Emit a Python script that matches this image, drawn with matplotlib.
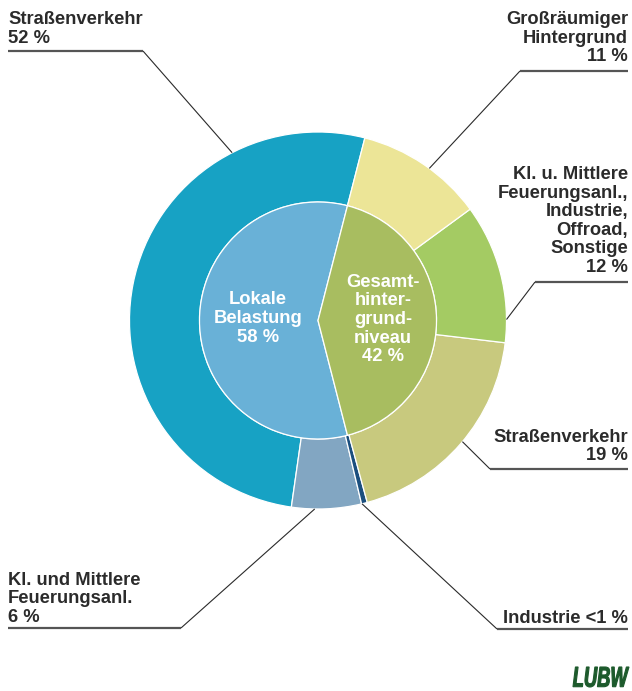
import matplotlib
matplotlib.use("Agg")
import matplotlib.pyplot as plt
import numpy as np
from matplotlib.textpath import TextPath
from matplotlib.patches import PathPatch
from matplotlib.font_manager import FontProperties
from matplotlib.transforms import Affine2D

# ---------------- data ----------------
inner_labels = ["Lokale\nBelastung\n58 %", "Gesamt-\nhinter-\ngrund-\nniveau\n42 %"]
inner_values = [58, 42]
inner_colors = ["#69b1d7", "#a8bd60"]

outer_labels = ["Straßenverkehr\n52 %",
                "Kl. und Mittlere\nFeuerungsanl.\n6 %",
                "Industrie <1 %",
                "Straßenverkehr\n19 %",
                "Kl. u. Mittlere\nFeuerungsanl.,\nIndustrie,\nOffroad,\nSonstige\n12 %",
                "Großräumiger\nHintergrund\n11 %"]
outer_values = [52, 6, 0.5, 19, 12, 11]
outer_colors = ["#17a2c4", "#82a6c2", "#1b4f7e", "#c8c97e", "#a4cb63", "#ece597"]

# ---------------- layout ----------------
W, H = 632, 691
def Y(py):
    return H - py

CX, CY = 318, 320.5
R_OUT, R_IN = 188.5, 118.5
START = inner_values[1] / sum(inner_values) * 360 / 2  # Gesamt wedge symmetric about 0 deg

fig = plt.figure(figsize=(W / 100, H / 100), dpi=100)
ax = fig.add_axes([0, 0, 1, 1])

wp = dict(edgecolor="white", linewidth=0.9)
ax.pie(outer_values, colors=outer_colors, radius=R_OUT, center=(CX, Y(CY)),
       startangle=START, counterclock=True,
       wedgeprops=dict(width=R_OUT - R_IN, **wp))
ax.pie(inner_values, colors=inner_colors, radius=R_IN, center=(CX, Y(CY)),
       startangle=START, counterclock=True, wedgeprops=wp)

ax.set_xlim(0, W)
ax.set_ylim(0, H)
ax.axis("off")

FONT = "Liberation Sans"
FS = 13.2
TXT = "#2b2b2b"
LSP = 18.5

def draw_lines(lines, x, last_baseline, ha, color=TXT, spacing=LSP):
    n = len(lines)
    for i, ln in enumerate(lines):
        yb = last_baseline - (n - 1 - i) * spacing
        ax.text(x, Y(yb), ln, ha=ha, va="baseline", fontsize=FS,
                fontweight="bold", family=FONT, color=color)

# inner labels (centre x, last baseline)
inner_pos = [(258, 341.5), (383, 361.3)]
for lab, (x, yb) in zip(inner_labels, inner_pos):
    draw_lines(lab.split("\n"), x, yb, "center", color="white", spacing=18.7)

# outer labels: (anchor angle deg, elbow x, line y, line end x, text x, ha, last baseline)
outer_layout = [
    (117.1, 143, 51, 8, 8, "left", 42.7),
    (-91.0, 181, 628, 8, 8, "left", 621.7),
    (-76.5, 497, 629, 628, 628, "right", 622.7),
    (-40.0, 490, 469, 628, 628, "right", 460),
    (0.3, 535, 282, 628, 628, "right", 271.7),
    (53.8, 520, 71, 628, 628, "right", 61),
]
for lab, (ang, ex, ly, lx, tx, ha, yb) in zip(outer_labels, outer_layout):
    a = np.deg2rad(ang)
    px = CX + R_OUT * np.cos(a)
    py = CY - R_OUT * np.sin(a)
    ax.plot([px, ex], [Y(py), Y(ly)], color="#2a2a2a", lw=0.8,
            solid_capstyle="butt")
    ax.plot([ex, lx], [Y(ly), Y(ly)], color="#555555", lw=1.6,
            solid_capstyle="butt")
    draw_lines(lab.split("\n"), tx, yb, ha)

# logo
fp = FontProperties(family=FONT, weight="bold", style="italic")
tp = TextPath((0, 0), "LUBW", prop=fp, size=20)
bb = tp.get_extents()
x0, x1, y0, y1 = 573, 629, 667, 687
tr = (Affine2D().translate(-bb.x0, -bb.y0)
      .scale((x1 - x0) / bb.width, (y1 - y0) / bb.height)
      .translate(x0, Y(y1)))
ax.add_patch(PathPatch(tr.transform_path(tp), facecolor="#1d5a2c",
                       edgecolor="#1d5a2c", linewidth=0.8))

fig.savefig("out.png", dpi=100)
